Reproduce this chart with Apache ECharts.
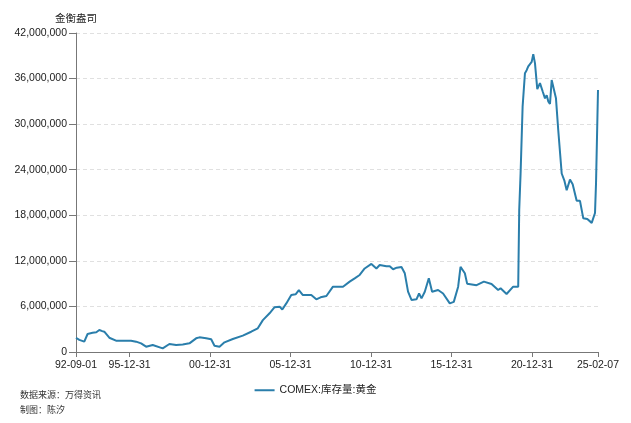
<!DOCTYPE html>
<html>
<head>
<meta charset="utf-8">
<script src="https://cdn.jsdelivr.net/npm/echarts@6/dist/echarts.min.js"></script>
<style>
html,body{margin:0;padding:0;background:#fff;}
#c{width:631px;height:423px;}
</style>
</head>
<body>
<div id="c"></div>
<script>
// Data (COMEX gold stocks, troy ounces)
var dates = ['1992-09-01','1992-11-15','1993-03-08','1993-05-22','1993-09-13','1993-12-06','1994-02-12','1994-04-20','1994-06-05','1994-09-27',
'1995-02-26','1995-09-03','1996-02-02','1996-05-27','1996-09-17','1997-01-09','1997-06-08','1998-01-21','1998-06-22','1998-11-21',
'1999-04-20','1999-09-19','2000-02-18','2000-05-04','2000-10-03','2001-01-25','2001-04-10','2001-08-02','2001-11-23','2002-05-31',
'2003-01-13','2003-07-22','2003-12-19','2004-04-12','2004-09-11','2005-01-03','2005-04-27','2005-06-27','2005-09-26','2006-01-17',
'2006-04-25','2006-07-08','2006-10-07','2006-11-15','2007-04-16','2007-08-08','2007-11-13','2008-03-24','2008-08-20','2009-04-05',
'2009-09-03','2009-12-26','2010-04-18','2010-08-10','2011-01-09','2011-05-03','2011-07-17','2011-12-16','2012-03-01','2012-05-15',
'2012-08-07','2012-11-22','2013-02-05','2013-04-20','2013-07-07','2013-10-28','2013-12-26','2014-02-19','2014-05-05','2014-08-04',
'2014-10-18','2015-03-03','2015-06-24','2015-11-23','2016-02-22','2016-05-31','2016-07-24','2016-10-30','2016-12-21','2017-07-23',
'2018-01-05','2018-06-28','2018-11-25','2019-01-19','2019-06-04','2019-11-01','2020-02-23','2020-03-17','2020-04-17','2020-06-02',
'2020-07-25','2020-09-02','2020-10-08','2020-11-16','2020-12-25','2021-01-30','2021-03-10','2021-05-01','2021-07-01','2021-09-01',
'2021-10-23','2021-12-01','2022-01-05','2022-02-13','2022-03-24','2022-04-29','2022-06-29','2022-08-20','2022-11-06','2023-01-04',
'2023-02-27','2023-05-13','2023-07-13','2023-10-12','2023-12-26','2024-03-10','2024-06-09','2024-07-24','2024-09-17','2024-10-23',
'2024-12-01','2024-12-24','2025-02-07'];
var values = [1880000,1600000,1360000,2370000,2540000,2600000,2900000,2750000,2670000,1880000,
1490000,1490000,1490000,1360000,1140000,700000,920000,480000,1050000,920000,
1000000,1140000,1800000,1930000,1800000,1670000,830000,700000,1270000,1710000,
2150000,2670000,3120000,4200000,5100000,5900000,5970000,5600000,6400000,7500000,
7600000,8160000,7500000,7500000,7500000,6940000,7200000,7370000,8600000,8600000,
9260000,9700000,10140000,11000000,11600000,11000000,11450000,11300000,11300000,10900000,
11100000,11200000,10360000,7940000,6850000,6940000,7700000,7060000,7940000,9700000,
7940000,8160000,7700000,6400000,6600000,8600000,11200000,10360000,9000000,8800000,
9260000,8950000,8160000,8400000,7640000,8600000,8600000,18700000,23500000,32300000,
36700000,37100000,37600000,37600000,38200000,39200000,38000000,34600000,35400000,34300000,
33400000,33800000,33000000,32650000,35800000,35800000,33400000,29200000,23500000,22600000,
21300000,22700000,22100000,19900000,19900000,17600000,17500000,17600000,17000000,17000000,
18300000,22200000,34500000];
var tickDates = ['1992-09-01','1995-12-31','2000-12-31','2005-12-31','2010-12-31','2015-12-31','2020-12-31','2025-02-07'];
var seriesName = 'COMEX:库存量:黄金';
var yName = '金衡盎司';
var sourceLines = ['数据来源：万得资讯', '制图：陈汐'];

function ts(s){ var p = s.split('-'); return Date.UTC(+p[0], +p[1]-1, +p[2]); }
function pad(n){ return (n<10?'0':'')+n; }
function fmt(v){ var d = new Date(v); return pad(d.getUTCFullYear()%100)+'-'+pad(d.getUTCMonth()+1)+'-'+pad(d.getUTCDate()); }

var seriesData = dates.map(function(d,i){ return [ts(d), values[i]]; });
var tickTs = tickDates.map(ts);

var FONT = "'Liberation Sans', Arial, Helvetica, 'Noto Sans CJK SC', sans-serif";
var chart = echarts.init(document.getElementById('c'), null, {renderer:'canvas'});
chart.setOption({
  animation:false,
  textStyle:{fontFamily:FONT},
  grid:{left:76, right:33, top:33, bottom:71, containLabel:false},
  legend:{
    data:[seriesName], left:'center', top:380, itemWidth:20, itemHeight:10, icon:'path://M0,4L20,4L20,6L0,6Z',
    textStyle:{fontSize:10.5, color:'#222', fontFamily:FONT}
  },
  xAxis:{
    type:'value', min:tickTs[0], max:tickTs[tickTs.length-1], scale:true,
    axisLine:{lineStyle:{color:'#777', width:1}},
    axisTick:{show:true, length:5, lineStyle:{color:'#777'}, customValues:tickTs},
    axisLabel:{customValues:tickTs, formatter:function(v){return fmt(v);}, fontSize:10.5, color:'#222', margin:8, hideOverlap:false, fontFamily:FONT},
    splitLine:{show:false}
  },
  yAxis:{
    type:'value', min:0, max:42000000, interval:6000000,
    name:yName, nameLocation:'end', nameGap:9,
    nameTextStyle:{fontSize:10.5, color:'#222', fontFamily:FONT, align:'center'},
    axisLine:{show:true, lineStyle:{color:'#777', width:1}},
    axisTick:{show:true, length:7, lineStyle:{color:'#777'}},
    axisLabel:{fontSize:10.5, color:'#222', margin:9, fontFamily:FONT,
      formatter:function(v){ return v.toString().replace(/\B(?=(\d{3})+(?!\d))/g, ','); }},
    splitLine:{show:true, lineStyle:{color:'#e0e0e0', type:[4,3], width:1}}
  },
  series:[{
    name:seriesName, type:'line', data:seriesData, symbol:'none', showSymbol:false,
    lineStyle:{color:'#2a7eab', width:2}, itemStyle:{color:'#2a7eab'}
  }],
  graphic:[
    {type:'text', left:20, top:390, style:{text:sourceLines[0], font:"9px 'Noto Sans CJK SC', sans-serif", fill:'#333'}},
    {type:'text', left:20, top:405, style:{text:sourceLines[1], font:"9px 'Noto Sans CJK SC', sans-serif", fill:'#333'}}
  ]
});
</script>
</body>
</html>
